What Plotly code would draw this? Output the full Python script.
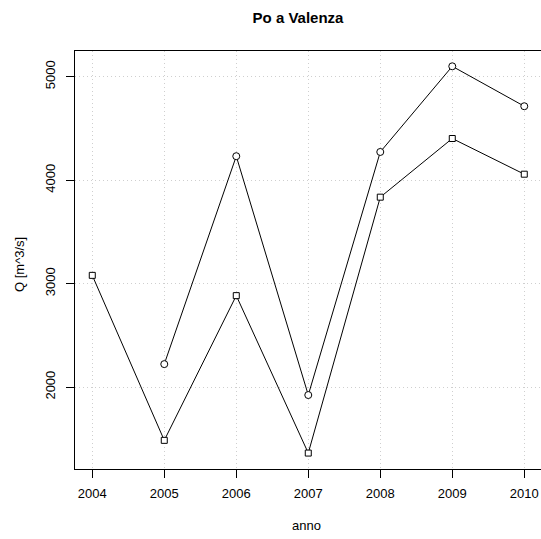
import plotly.graph_objects as go

years = [2004, 2005, 2006, 2007, 2008, 2009, 2010]
q_circle = [None, 2222, 4232, 1923, 4273, 5101, 4715]
q_square = [3080, 1485, 2884, 1362, 3836, 4403, 4058]
x_ticks = [2004, 2005, 2006, 2007, 2008, 2009, 2010]
y_ticks = [2000, 3000, 4000, 5000]

W, H = 541, 539
L, T, R = 75, 51, 0
B = H - 469
FONT = "Liberation Sans, Arial, Helvetica, sans-serif"

fig = go.Figure()
fig.add_trace(go.Scatter(
    x=years, y=q_circle, mode="lines+markers",
    line=dict(color="black", width=1),
    marker=dict(symbol="circle", size=7, color="white", line=dict(color="black", width=1)),
    connectgaps=False, showlegend=False, hoverinfo="skip"))
fig.add_trace(go.Scatter(
    x=years, y=q_square, mode="lines+markers",
    line=dict(color="black", width=1),
    marker=dict(symbol="square", size=6, color="white", line=dict(color="black", width=1)),
    showlegend=False, hoverinfo="skip"))

plot_w = W - L - R
plot_h = H - T - B

fig.update_layout(
    width=W, height=H,
    margin=dict(l=L, r=R, t=T, b=B, autoexpand=False),
    paper_bgcolor="white", plot_bgcolor="white",
    font=dict(family=FONT, size=13, color="black"),
    title=dict(text="<b>Po a Valenza</b>", x=298 / W, xref="container", xanchor="center",
               y=1 - 18 / H, yref="container", yanchor="middle",
               font=dict(size=15, family=FONT, color="black")),
    annotations=[
        dict(text="anno", x=(306 - L) / plot_w, y=(H - B - 525) / plot_h,
             xref="paper", yref="paper", showarrow=False,
             xanchor="center", yanchor="middle", font=dict(size=13)),
        dict(text="Q [m^3/s]", x=(19 - L) / plot_w, y=(H - B - 265) / plot_h,
             xref="paper", yref="paper", showarrow=False,
             xanchor="center", yanchor="middle", textangle=-90, font=dict(size=13)),
    ],
)

fig.update_xaxes(
    range=[2003.76, 2003.76 + plot_w / 72.0], tickvals=x_ticks, ticktext=[str(v) for v in x_ticks],
    showline=True, mirror=True, linecolor="black", linewidth=1,
    ticks="outside", ticklen=8, tickcolor="black", ticklabelstandoff=4,
    showgrid=True, gridcolor="#cfcfcf", griddash="1px,3px", gridwidth=1, zeroline=False,
    automargin=False,
)
fig.update_yaxes(
    range=[1208, 5249], tickvals=y_ticks, ticktext=[str(v) for v in y_ticks],
    tickangle=-90,
    showline=True, mirror=True, linecolor="black", linewidth=1,
    ticks="outside", ticklen=8, tickcolor="black", ticklabelstandoff=6,
    showgrid=True, gridcolor="#cfcfcf", griddash="1px,3px", gridwidth=1, zeroline=False,
    automargin=False,
)

fig.write_html(
    "out.html",
    config={"displayModeBar": False},
    post_script="document.body.style.margin='0';document.documentElement.style.overflow='hidden';",
)
